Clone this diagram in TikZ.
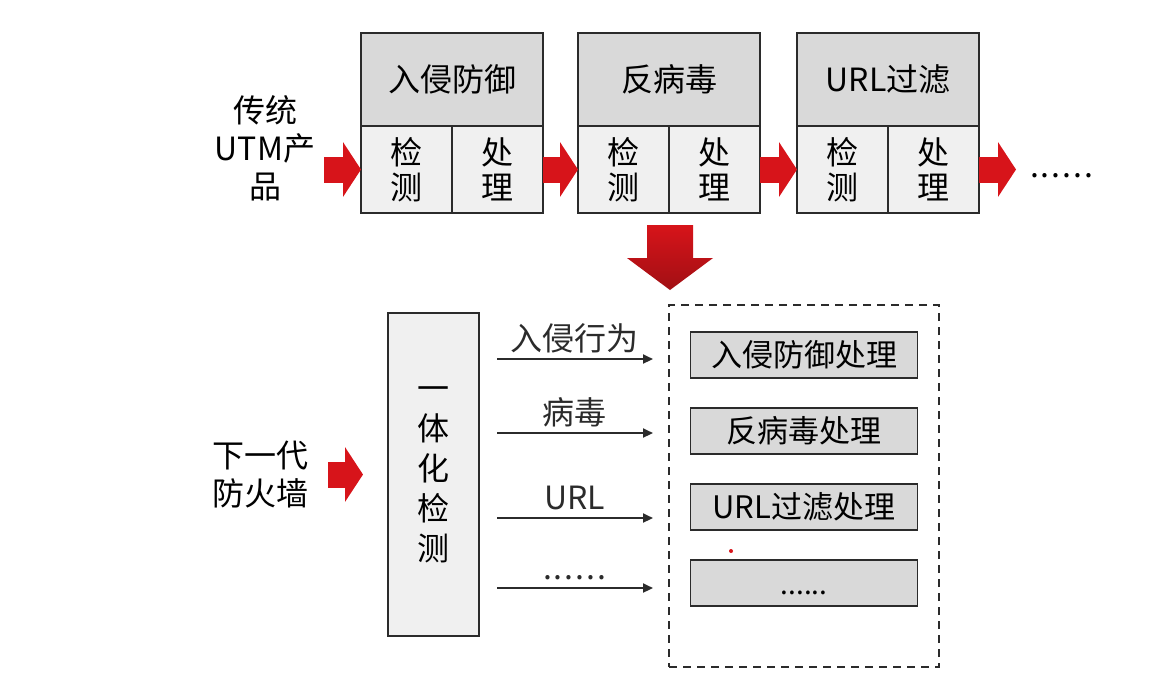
\documentclass[tikz,border=0pt]{standalone}
\usepackage{fontspec}
\setmainfont{Noto Sans CJK SC}
\usepackage{tikz}
\usetikzlibrary{arrows.meta,calc,positioning}
\definecolor{utmred}{HTML}{D7141A}
\definecolor{boxline}{HTML}{2B2B2B}
\definecolor{headgray}{HTML}{D9D9D9}
\definecolor{cellgray}{HTML}{F0F0F0}
\newcommand\sixdots{.\kern1pt.\kern1pt.\kern1pt.\kern1pt.\kern1pt.}
\newcommand\boxdots{{\fontsize{14pt}{18pt}\selectfont......}}

\begin{document}
\begin{tikzpicture}[x=0.5pt,y=-0.5pt,
    every node/.style={inner sep=0,outer sep=0,font=\fontsize{16pt}{19pt}\selectfont},
    head/.style={draw=boxline,line width=1.2pt,fill=headgray,minimum width=91pt,minimum height=46.5pt,anchor=north west},
    cell/.style={draw=boxline,line width=1.2pt,fill=cellgray,minimum width=45.5pt,minimum height=43.5pt,align=center,font=\fontsize{16pt}{17.5pt}\selectfont},
    proc/.style={draw=boxline,line width=0.9pt,fill=headgray,minimum width=113.5pt,minimum height=23pt,font=\fontsize{15.5pt}{18pt}\selectfont},
    redarrow/.style={utmred,line width=13pt,-{Triangle[length=9pt,width=27pt]}},
    thinarrow/.style={boxline,line width=1pt,-{Triangle[length=5pt,width=4.5pt]}}]
    \useasboundingbox (0,0) rectangle (1165,693);

    \foreach \i/\x/\t in {1/361/入侵防御,2/578/反病毒,3/797/URL过滤} {
        \node[head] (h\i) at (\x,33) {\raisebox{-1.5pt}{\t}};
        \node[cell,anchor=north west] (d\i) at (h\i.south west) {检\\测};
        \node[cell,anchor=north east] (p\i) at (h\i.south east) {处\\理};
    }
    \node[align=center] (utm) at (265,148) {传统\\UTM产\\品};
    \draw[redarrow] ($(d1.west)+(-37,0)$) -- (d1.west);
    \draw[redarrow] (p1.east) -- (d2.west);
    \draw[redarrow] (p2.east) -- (d3.west);
    \draw[redarrow] (p3.east) -- ++(37,0) coordinate (e0);
    \node[anchor=base west] (more) at ($(e0)+(14,8)$) {\sixdots};

    \coordinate (dn) at (670,225);
    \shade[top color=utmred,bottom color=utmred!75!black]
    (dn) ++(-23,0) -- ++(46,0) -- ++(0,33) -- ++(20,0) -- ++(-43,32) -- ++(-43,-32) -- ++(20,0) -- cycle;

    \node[align=center] (ngfw) at (260,474) {下一代\\防火墙};
    \node[draw=boxline,line width=1.2pt,fill=cellgray,minimum width=45.5pt,minimum height=161.5pt,
          anchor=north west,align=center,font=\fontsize{16pt}{20pt}\selectfont] (det) at (388,313) {一\\体\\化\\检\\测};
    \draw[redarrow,shorten >=12.5pt] ($(det.west)+(-60,0)$) -- (det.west);

    \node[draw=boxline,line width=0.9pt,dash pattern=on 4pt off 3pt,minimum width=135pt,minimum height=181pt] (all) at (804,486) {};
    \foreach \i/\y/\t in {1/355/入侵防御处理,2/431/反病毒处理,3/507/URL过滤处理,4/583/\boxdots}
        \node[proc] (r\i) at (804,\y) {\vphantom{理}\t};
    \foreach \i/\y/\t in {1/359/入侵行为,2/433/病毒,3/518/URL,4/588/\sixdots} {
        \coordinate (e\i) at (653,\y);
        \draw[thinarrow,shorten <=9pt] (det.east |- e\i) -- node[pos=0.55,above=3pt] {\vphantom{病}\t} (e\i);
    }
    \fill[utmred] (731,551) circle[radius=1pt];
\end{tikzpicture}
\end{document}
